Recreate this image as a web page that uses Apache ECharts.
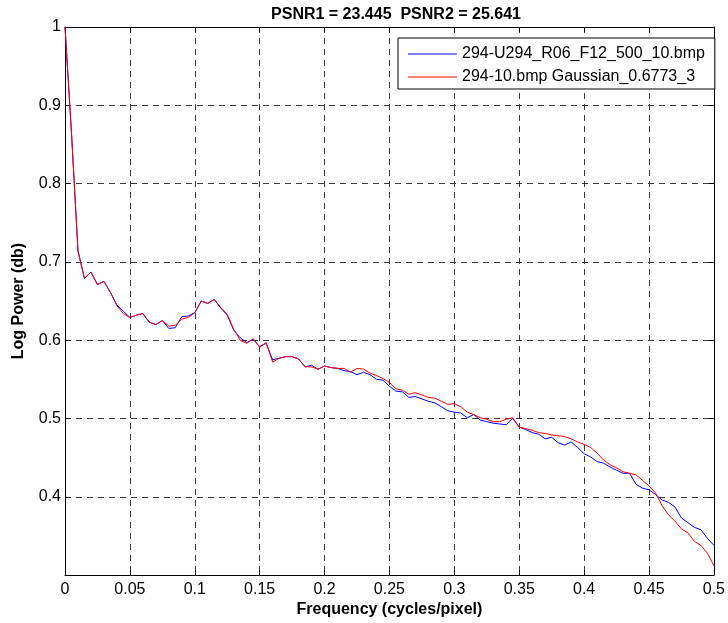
<!DOCTYPE html>
<html>
<head>
<meta charset="utf-8">
<script src="https://cdn.jsdelivr.net/npm/echarts@6/dist/echarts.min.js"></script>
<style>html,body{margin:0;padding:0;background:#fff;}#c{width:728px;height:623px;}</style>
</head>
<body>
<div id="c"></div>
<script>
const titleText = 'PSNR1 = 23.445  PSNR2 = 25.641';
const xName = 'Frequency (cycles/pixel)';
const yName = 'Log Power (db)';
const seriesNames = ['294-U294_R06_F12_500_10.bmp', '294-10.bmp Gaussian_0.6773_3'];

const freq = [0,0.005,0.01,0.015,0.02,0.025,0.03,0.035,0.04,0.045,
0.05,0.055,0.06,0.065,0.07,0.075,0.08,0.085,0.09,0.095,
0.1,0.105,0.11,0.115,0.12,0.125,0.13,0.135,0.14,0.145,
0.15,0.155,0.16,0.165,0.17,0.175,0.18,0.185,0.19,0.195,
0.2,0.205,0.21,0.215,0.22,0.225,0.23,0.235,0.24,0.245,
0.25,0.255,0.26,0.265,0.27,0.275,0.28,0.285,0.29,0.295,
0.3,0.305,0.31,0.315,0.32,0.325,0.33,0.335,0.34,0.345,
0.35,0.355,0.36,0.365,0.37,0.375,0.38,0.385,0.39,0.395,
0.4,0.405,0.41,0.415,0.42,0.425,0.43,0.435,0.44,0.445,
0.45,0.455,0.46,0.465,0.47,0.475,0.48,0.485,0.49,0.495,0.5];

const blue = [1.000,0.865,0.714,0.679,0.687,0.671,0.675,0.661,0.645,0.637,
0.629,0.632,0.634,0.623,0.620,0.625,0.615,0.616,0.630,0.631,
0.635,0.650,0.647,0.652,0.641,0.632,0.613,0.603,0.597,0.601,
0.592,0.596,0.575,0.577,0.579,0.579,0.576,0.566,0.568,0.563,
0.567,0.565,0.564,0.561,0.560,0.556,0.559,0.556,0.550,0.549,
0.541,0.535,0.534,0.527,0.528,0.525,0.522,0.520,0.515,0.510,
0.508,0.507,0.501,0.505,0.498,0.496,0.494,0.493,0.492,0.500,
0.489,0.486,0.482,0.480,0.474,0.476,0.469,0.466,0.470,0.463,
0.455,0.451,0.445,0.443,0.438,0.434,0.430,0.430,0.416,0.411,
0.409,0.403,0.396,0.393,0.387,0.373,0.367,0.361,0.358,0.347,0.338];

const red = [1.000,0.865,0.714,0.679,0.687,0.671,0.675,0.661,0.644,0.634,
0.629,0.632,0.634,0.623,0.620,0.625,0.618,0.619,0.627,0.629,
0.635,0.650,0.647,0.652,0.642,0.633,0.614,0.600,0.596,0.602,
0.591,0.597,0.572,0.577,0.579,0.579,0.576,0.566,0.566,0.563,
0.567,0.565,0.564,0.564,0.559,0.564,0.563,0.558,0.555,0.551,
0.546,0.538,0.536,0.531,0.533,0.530,0.527,0.526,0.522,0.518,
0.519,0.515,0.508,0.505,0.501,0.499,0.496,0.496,0.499,0.501,
0.489,0.487,0.485,0.482,0.481,0.479,0.478,0.477,0.474,0.470,
0.467,0.463,0.456,0.447,0.441,0.437,0.432,0.430,0.428,0.421,
0.414,0.405,0.389,0.377,0.369,0.359,0.354,0.343,0.338,0.328,0.312];

const FONT = 'Liberation Sans, Arial, Helvetica, sans-serif';
const chart = echarts.init(document.getElementById('c'), null, {renderer: 'canvas'});
const gridLine = {show: true, lineStyle: {color: '#3a3a3a', type: [6, 5], width: 1}};
const frame = {show: true, onZero: false, lineStyle: {color: '#000', width: 1}};
const tickIn = {show: true, inside: true, length: 5, lineStyle: {color: '#000'}};

chart.setOption({
  animation: false,
  backgroundColor: '#fff',
  title: {
    text: titleText, left: 391, top: 2, textAlign: 'center',
    textStyle: {fontFamily: FONT, fontSize: 16, fontWeight: 'bold', color: '#000'}
  },
  legend: {
    orient: 'vertical', left: 398, top: 38,
    padding: [8, 10, 4, 10], itemGap: 7,
    itemWidth: 49, itemHeight: 1.2,
    borderColor: '#000', borderWidth: 1, backgroundColor: '#fff',
    textStyle: {fontFamily: FONT, fontSize: 16, color: '#000'},
    data: [{name: seriesNames[0], icon: 'rect'}, {name: seriesNames[1], icon: 'rect'}]
  },
  grid: {left: 65, right: 11, top: 27, bottom: 47, containLabel: false},
  xAxis: [{
    type: 'value', min: 0, max: 0.5, interval: 0.05, position: 'bottom',
    name: xName, nameLocation: 'middle', nameGap: 26,
    nameTextStyle: {fontFamily: FONT, fontSize: 16, fontWeight: 'bold', color: '#000'},
    axisLine: frame, axisTick: tickIn, splitLine: gridLine,
    axisLabel: {fontFamily: FONT, fontSize: 16, color: '#000', margin: 6}
  }, {
    type: 'value', min: 0, max: 0.5, interval: 0.05, position: 'top',
    axisLine: frame, axisTick: tickIn, splitLine: {show: false}, axisLabel: {show: false}
  }],
  yAxis: [{
    type: 'value', min: 0.3, max: 1, interval: 0.1, position: 'left',
    name: yName, nameLocation: 'middle', nameGap: 38,
    nameTextStyle: {fontFamily: FONT, fontSize: 16, fontWeight: 'bold', color: '#000'},
    axisLine: frame, axisTick: tickIn, splitLine: gridLine,
    axisLabel: {fontFamily: FONT, fontSize: 16, color: '#000', margin: 4,
      formatter: v => (Math.abs(v - 0.3) < 1e-6 ? '' : String(+v.toFixed(2)))}
  }, {
    type: 'value', min: 0.3, max: 1, interval: 0.1, position: 'right',
    axisLine: frame, axisTick: tickIn, splitLine: {show: false}, axisLabel: {show: false}
  }],
  series: [{
    name: seriesNames[0], type: 'line', showSymbol: false, symbol: 'none',
    lineStyle: {color: '#0000ff', width: 1}, itemStyle: {color: '#0000ff'},
    data: freq.map((f, i) => [f, blue[i]])
  }, {
    name: seriesNames[1], type: 'line', showSymbol: false, symbol: 'none',
    lineStyle: {color: '#ff0000', width: 1}, itemStyle: {color: '#ff0000'},
    data: freq.map((f, i) => [f, red[i]])
  }]
});
</script>
</body>
</html>
